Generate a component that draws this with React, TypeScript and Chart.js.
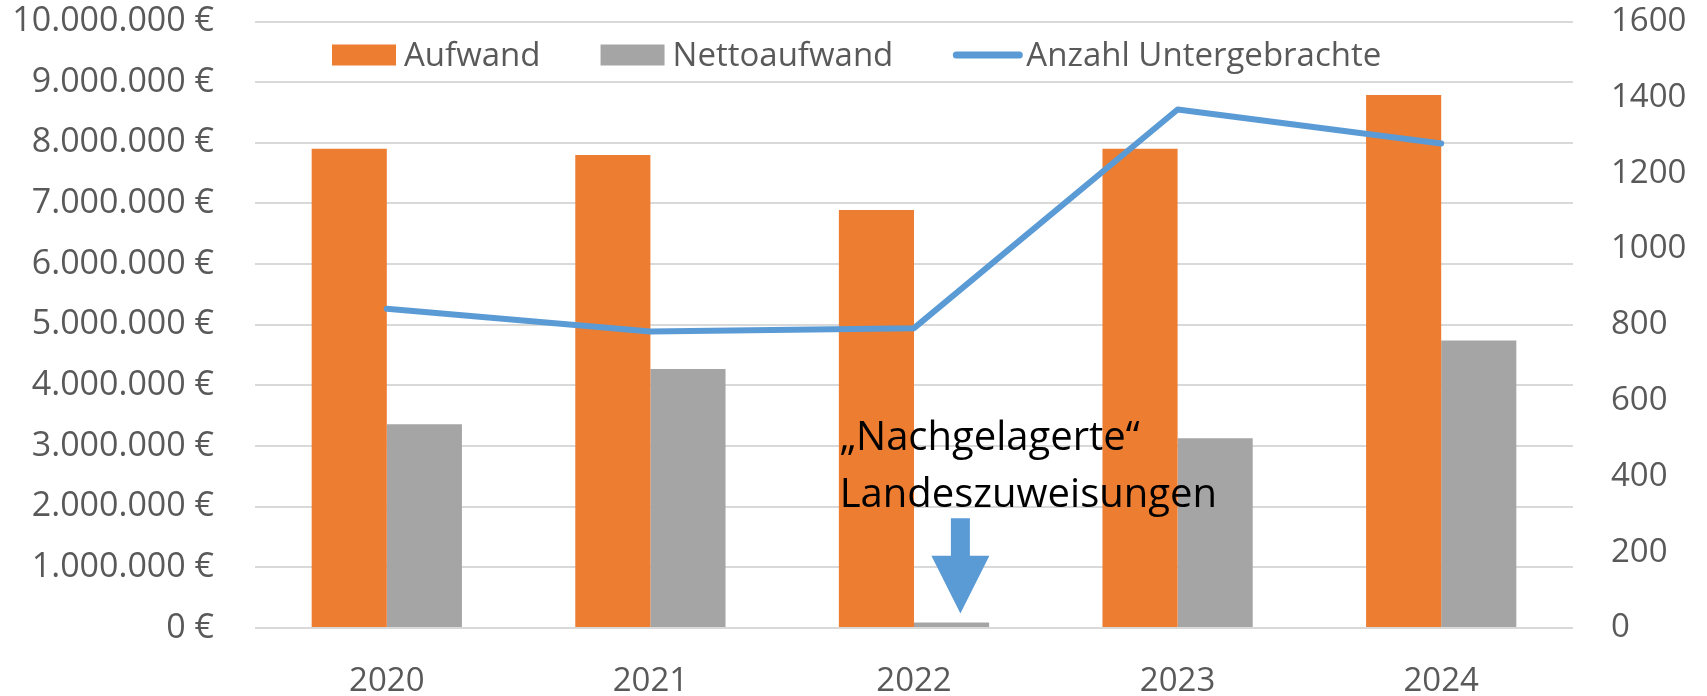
import React, { useEffect, useRef } from 'react';
import { Chart, registerables } from 'chart.js';

Chart.register(...registerables);

const years = ['2020', '2021', '2022', '2023', '2024'];
const aufwand = [7900000, 7800000, 6890000, 7900000, 8790000];
const nettoaufwand = [3360000, 4270000, 90000, 3130000, 4740000];
const untergebrachte = [842, 782, 791, 1368, 1278];

const seriesLabels = ['Aufwand', 'Nettoaufwand', 'Anzahl Untergebrachte'];
const euroMax = 10000000;
const euroStep = 1000000;
const countMax = 1600;
const countStep = 200;

const annotationLines = ['\u201ENachgelagerte\u201C', 'Landeszuweisungen'];
const annotationYear = 2; // index of 2022
const annotationTextValues = [2930000, 2000000];
const arrowValues = [1810000, 1190000, 240000]; // shaft top, head base, tip

const ORANGE = '#ED7D31';
const GRAY = '#A5A5A5';
const BLUE = '#5B9BD5';
const TEXT = '#595959';
const GRID = '#D9D9D9';
const FONT = '"Open Sans", sans-serif';

function formatEuro(v: number): string {
  return String(Math.round(v)).replace(/\B(?=(\d{3})+(?!\d))/g, '.') + ' \u20AC';
}

const legendPlugin = {
  id: 'customLegend',
  afterDraw(chart: any) {
    const { ctx, chartArea } = chart;
    ctx.save();
    ctx.font = `33px ${FONT}`;
    ctx.textBaseline = 'alphabetic';
    const baseline = chartArea.top + 44;
    const boxTop = chartArea.top + 23;
    const boxH = 21;
    let x = chartArea.left + 77;
    chart.data.datasets.forEach((ds: any) => {
      if (ds.type === 'line') {
        ctx.strokeStyle = ds.borderColor;
        ctx.lineWidth = 7;
        ctx.lineCap = 'round';
        ctx.beginPath();
        ctx.moveTo(x + 3, boxTop + boxH / 2);
        ctx.lineTo(x + 66, boxTop + boxH / 2);
        ctx.stroke();
        x += 73;
      } else {
        ctx.fillStyle = ds.backgroundColor;
        ctx.fillRect(x, boxTop, 64, boxH);
        x += 72;
      }
      ctx.fillStyle = TEXT;
      ctx.fillText(ds.label, x, baseline);
      x += ctx.measureText(ds.label).width + 60;
    });
    ctx.restore();
  },
};

const annotationPlugin = {
  id: 'annotation',
  afterDraw(chart: any) {
    const { ctx } = chart;
    const xs = chart.scales.x;
    const ys = chart.scales.y;
    const cx = xs.getPixelForValue(annotationYear);
    const cat = xs.getPixelForValue(1) - xs.getPixelForValue(0);
    ctx.save();
    ctx.font = `40px ${FONT}`;
    ctx.fillStyle = '#000000';
    ctx.textBaseline = 'alphabetic';
    annotationLines.forEach((line, i) => {
      ctx.fillText(line, cx - 0.282 * cat, ys.getPixelForValue(annotationTextValues[i]));
    });
    const ax = cx + 0.176 * cat;
    const yTop = ys.getPixelForValue(arrowValues[0]);
    const yBase = ys.getPixelForValue(arrowValues[1]);
    const yTip = ys.getPixelForValue(arrowValues[2]);
    const shaft = 19 / 2;
    const head = 58 / 2;
    ctx.fillStyle = BLUE;
    ctx.beginPath();
    ctx.moveTo(ax - shaft, yTop);
    ctx.lineTo(ax + shaft, yTop);
    ctx.lineTo(ax + shaft, yBase);
    ctx.lineTo(ax + head, yBase);
    ctx.lineTo(ax, yTip);
    ctx.lineTo(ax - head, yBase);
    ctx.lineTo(ax - shaft, yBase);
    ctx.closePath();
    ctx.fill();
    ctx.restore();
  },
};

export default function App() {
  const ref = useRef<HTMLCanvasElement>(null);

  useEffect(() => {
    document.body.style.margin = '0';
    const chart = new Chart(ref.current as HTMLCanvasElement, {
      type: 'bar',
      data: {
        labels: years,
        datasets: [
          {
            type: 'bar',
            label: seriesLabels[0],
            data: aufwand,
            backgroundColor: ORANGE,
            yAxisID: 'y',
            order: 1,
            categoryPercentage: 0.57,
            barPercentage: 1,
          },
          {
            type: 'bar',
            label: seriesLabels[1],
            data: nettoaufwand,
            backgroundColor: GRAY,
            yAxisID: 'y',
            order: 2,
            categoryPercentage: 0.57,
            barPercentage: 1,
          },
          {
            type: 'line',
            label: seriesLabels[2],
            data: untergebrachte,
            borderColor: BLUE,
            backgroundColor: BLUE,
            borderWidth: 6,
            borderCapStyle: 'round',
            borderJoinStyle: 'round',
            pointRadius: 0,
            tension: 0,
            yAxisID: 'y1',
            order: 0,
          },
        ] as any,
      },
      options: {
        responsive: false,
        animation: false,
        devicePixelRatio: 1,
        layout: { padding: { top: 21.5, left: 0, right: 0, bottom: 0 } },
        font: { family: FONT },
        plugins: {
          legend: { display: false },
          tooltip: { enabled: false },
        },
        scales: {
          x: {
            offset: true,
            grid: { display: false, drawTicks: false },
            border: { display: false },
            ticks: { color: TEXT, font: { family: FONT, size: 33 }, padding: 34 },
            afterFit: (s: any) => { s.height = 68; s.paddingLeft = 0; s.paddingRight = 0; },
          },
          y: {
            position: 'left',
            min: 0,
            max: euroMax,
            grid: { color: GRID, lineWidth: 2, drawTicks: false },
            border: { display: false },
            ticks: {
              stepSize: euroStep,
              color: TEXT,
              font: { family: FONT, size: 34 },
              padding: 41,
              callback: (v: any) => formatEuro(Number(v)),
            },
            afterFit: (s: any) => { s.width = 255; s.paddingTop = 0; s.paddingBottom = 0; },
          },
          y1: {
            position: 'right',
            min: 0,
            max: countMax,
            grid: { display: false, drawTicks: false },
            border: { display: false },
            ticks: {
              stepSize: countStep,
              color: TEXT,
              font: { family: FONT, size: 33 },
              padding: 38,
              callback: (v: any) => String(v),
            },
            afterFit: (s: any) => { s.width = 134; s.paddingTop = 0; s.paddingBottom = 0; },
          },
        },
      } as any,
      plugins: [annotationPlugin, legendPlugin],
    });
    return () => chart.destroy();
  }, []);

  return (
    <div style={{ position: 'fixed', left: 0, top: 0, width: 1707, height: 696, background: '#ffffff' }}>
      <canvas ref={ref} width={1707} height={696} style={{ width: 1707, height: 696, display: 'block' }} />
    </div>
  );
}
